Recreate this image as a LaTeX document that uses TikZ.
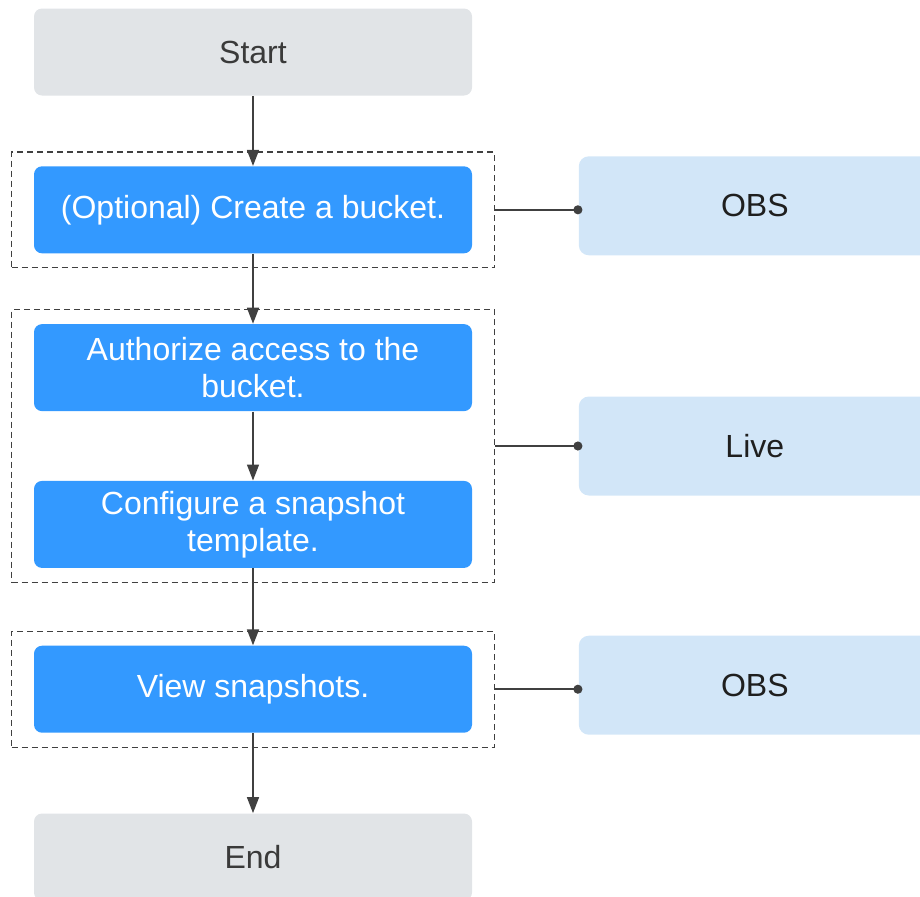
\documentclass[tikz,border=0pt]{standalone}
\usepackage{fontspec}
\setmainfont{Liberation Sans}
\usetikzlibrary{positioning,fit,calc,arrows.meta}
\definecolor{termgray}{HTML}{E1E4E7}
\definecolor{stepblue}{HTML}{3399FF}
\definecolor{svcblue}{HTML}{D2E6F8}
\definecolor{linegray}{HTML}{404040}
\definecolor{textdark}{HTML}{3A3A3A}

\begin{document}
\begin{tikzpicture}[
      node distance=35pt,
      every node/.style={font=\fontsize{16}{18.5}\selectfont},
      terminal/.style={rectangle, rounded corners=4pt, fill=termgray, text=textdark, minimum width=219pt, minimum height=43.5pt, align=center},
      block/.style={rectangle, rounded corners=4pt, fill=stepblue, text=white, minimum width=219pt, minimum height=43.5pt, align=center},
      service/.style={rectangle, rounded corners=5pt, fill=svcblue, text=black!88, minimum width=176pt, minimum height=49.5pt, anchor=west},
      group/.style={draw=linegray, line width=0.6pt, dash pattern=on 3pt off 2pt, inner xsep=11pt, inner ysep=7pt},
      flow/.style={-{Triangle[length=8pt,width=6pt]}, draw=linegray, line width=0.75pt},
      link/.style={-{Circle[length=4.5pt]}, draw=linegray, line width=0.75pt, shorten >=-2pt}
    ]
    \useasboundingbox (0,0) rectangle (460pt,-448pt);
    \node[terminal] (start) at (126.5pt,-26pt) {Start};
    \node[block, below=35pt of start] (create) {(Optional) Create a bucket.};
    \node[block, below=35pt of create] (auth) {Authorize access to the\\ bucket.};
    \node[block, below=34.5pt of auth] (conf) {Configure a snapshot\\ template.};
    \node[block, below=38.5pt of conf] (view) {View snapshots.};
    \node[terminal, below=40pt of view] (end) {End};
    % dashed groups
    \node[group, fit=(create)] (grpa) {};
    \node[group, fit=(auth)(conf)] (grpb) {};
    \node[group, fit=(view)] (grpc) {};
    % services
    \node[service, right=53pt of create, yshift=2pt] (obsa) {OBS};
    \node[service, xshift=53pt] (live) at ($(auth.east)!0.5!(conf.east)$) {Live};
    \node[service, right=53pt of view, yshift=2pt] (obsb) {OBS};
    \draw[flow] (start) -- (create);
    \draw[flow] (create) -- (auth);
    \draw[flow] (auth) -- (conf);
    \draw[flow] (conf) -- (view);
    \draw[flow] (view) -- (end);
    \draw[link] (grpa.east) -- (grpa.east -| obsa.west);
    \draw[link] (grpb.east) -- (grpb.east -| live.west);
    \draw[link] (grpc.east) -- (grpc.east -| obsb.west);
  \end{tikzpicture}
\end{document}
